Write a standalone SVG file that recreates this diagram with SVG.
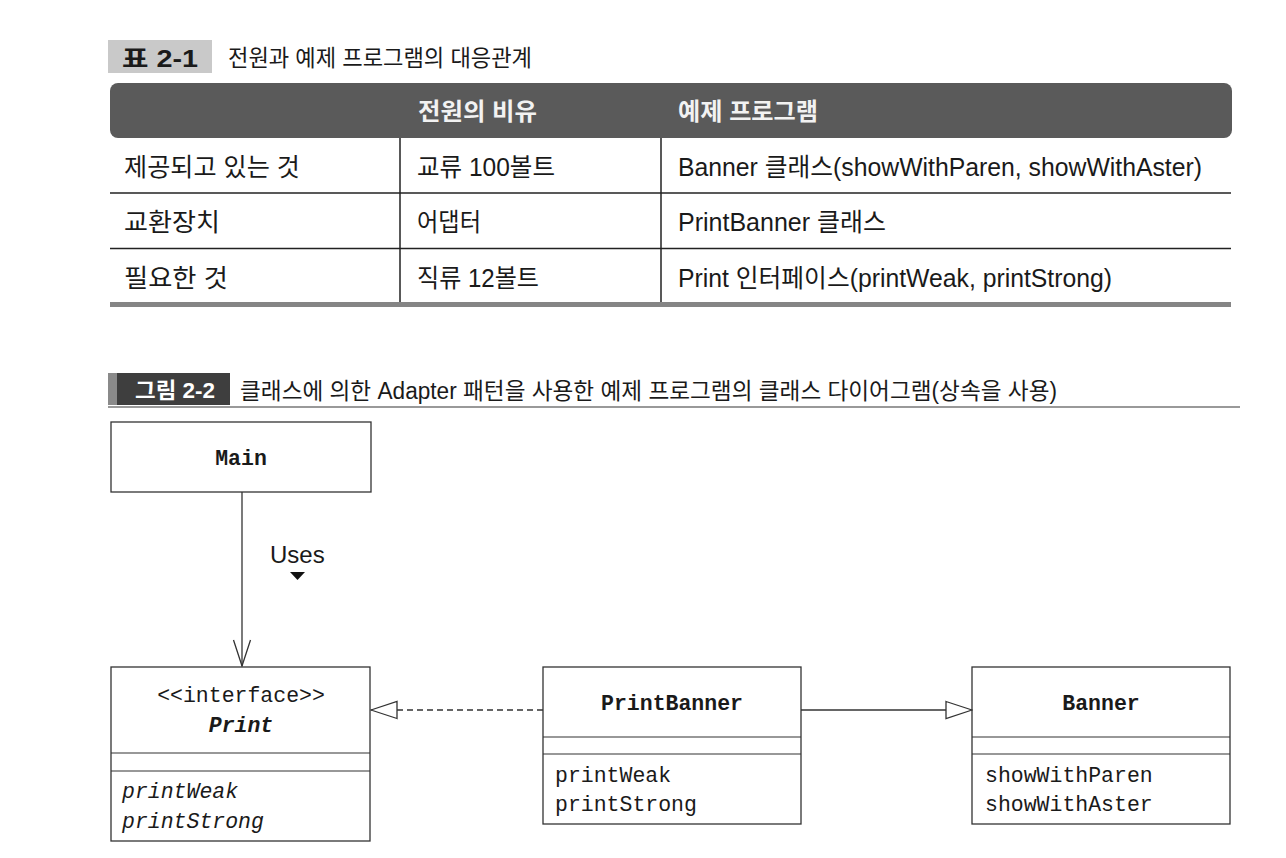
<svg xmlns="http://www.w3.org/2000/svg" width="1286" height="858" viewBox="0 0 1286 858">
<style>
.ko{font-family:"Liberation Sans","Noto Sans CJK KR",sans-serif;fill:#1a1a1a}
.kb{font-weight:bold}
.hd{fill:#f2f2f2;font-weight:bold}
.box{fill:#fff;stroke:#333;stroke-width:1.3}
.div{stroke:#333;stroke-width:1.2}
.mono{font-family:"Liberation Mono","Courier New",monospace;font-size:21.5px;fill:#1a1a1a}
.tl{stroke:#222;stroke-width:1.5}
.conn{stroke:#333;stroke-width:1.3;fill:none}
</style>
<defs>
<marker id="tri" markerUnits="userSpaceOnUse" viewBox="0 0 28 20" refX="27" refY="10" markerWidth="28" markerHeight="20" orient="auto">
<path d="M1,1.5 L27,10 L1,18.5 Z" fill="#fff" stroke="#333" stroke-width="1.3" stroke-dasharray="none"/>
</marker>
<marker id="open" markerUnits="userSpaceOnUse" viewBox="0 0 28 20" refX="27" refY="10" markerWidth="28" markerHeight="20" orient="auto">
<path d="M1,1.5 L27,10 L1,18.5" fill="none" stroke="#333" stroke-width="1.3"/>
</marker>
</defs>
<rect width="1286" height="858" fill="#fff"/>

<g id="table-title">
<rect x="108" y="40" width="104" height="33" fill="#c9c9c9"/>
<text class="ko" x="122" y="67" font-size="24" font-weight="600" textLength="76" lengthAdjust="spacingAndGlyphs">표 2-1</text>
<text class="ko" x="228" y="66" font-size="23" textLength="304" lengthAdjust="spacingAndGlyphs">전원과 예제 프로그램의 대응관계</text>
</g>

<g id="table">
<rect x="110" y="83" width="1122" height="55" rx="8" fill="#5a5a5a"/>
<text class="ko hd" x="418" y="120" font-size="24" textLength="119" lengthAdjust="spacingAndGlyphs">전원의 비유</text>
<text class="ko hd" x="678" y="120" font-size="24" textLength="140" lengthAdjust="spacingAndGlyphs">예제 프로그램</text>
<line class="tl" x1="110" y1="193" x2="1231" y2="193"/>
<line class="tl" x1="110" y1="248.5" x2="1231" y2="248.5"/>
<line class="tl" x1="400" y1="138" x2="400" y2="303"/>
<line class="tl" x1="661" y1="138" x2="661" y2="303"/>
<rect x="110" y="302" width="1121" height="5" fill="#858585"/>
<text class="ko" x="124" y="176" font-size="25" textLength="176" lengthAdjust="spacingAndGlyphs">제공되고 있는 것</text>
<text class="ko" x="417" y="176" font-size="25" textLength="138" lengthAdjust="spacingAndGlyphs">교류 100볼트</text>
<text class="ko" x="678" y="176" font-size="25" textLength="524" lengthAdjust="spacingAndGlyphs">Banner 클래스(showWithParen, showWithAster)</text>
<text class="ko" x="124" y="231" font-size="25" textLength="96" lengthAdjust="spacingAndGlyphs">교환장치</text>
<text class="ko" x="417" y="231" font-size="25" textLength="64" lengthAdjust="spacingAndGlyphs">어댑터</text>
<text class="ko" x="678" y="231" font-size="25" textLength="208" lengthAdjust="spacingAndGlyphs">PrintBanner 클래스</text>
<text class="ko" x="124" y="287" font-size="25" textLength="104" lengthAdjust="spacingAndGlyphs">필요한 것</text>
<text class="ko" x="417" y="287" font-size="25" textLength="122" lengthAdjust="spacingAndGlyphs">직류 12볼트</text>
<text class="ko" x="678" y="287" font-size="25" textLength="434" lengthAdjust="spacingAndGlyphs">Print 인터페이스(printWeak, printStrong)</text>
</g>

<g id="figure-title">
<rect x="108" y="373" width="122" height="32" fill="#3e3e3e"/>
<rect x="108" y="373" width="9" height="32" fill="#8a8a8a"/>
<text class="ko kb" x="135" y="398" font-size="22" style="fill:#fff" textLength="80" lengthAdjust="spacingAndGlyphs">그림 2-2</text>
<text class="ko" x="240" y="399" font-size="23" textLength="817" lengthAdjust="spacingAndGlyphs">클래스에 의한 Adapter 패턴을 사용한 예제 프로그램의 클래스 다이어그램(상속을 사용)</text>
<line x1="108" y1="407" x2="1240" y2="407" stroke="#777" stroke-width="1.5"/>
</g>

<g id="Main">
<rect class="box" x="111" y="422" width="260" height="70"/>
<text class="mono" x="241" y="465" text-anchor="middle" font-weight="bold">Main</text>
</g>

<g id="Print">
<rect class="box" x="111" y="667" width="259" height="174"/>
<line class="div" x1="111" y1="753" x2="370" y2="753"/>
<line class="div" x1="111" y1="771" x2="370" y2="771"/>
<text class="mono" x="241" y="702" text-anchor="middle">&lt;&lt;interface&gt;&gt;</text>
<text class="mono" x="241" y="732" text-anchor="middle" font-weight="bold" font-style="italic">Print</text>
<text class="mono" x="122" y="798" font-style="italic">printWeak</text>
<text class="mono" x="122" y="828" font-style="italic">printStrong</text>
</g>

<g id="PrintBanner">
<rect class="box" x="543" y="667" width="258" height="157"/>
<line class="div" x1="543" y1="737" x2="801" y2="737"/>
<line class="div" x1="543" y1="754" x2="801" y2="754"/>
<text class="mono" x="672" y="710" text-anchor="middle" font-weight="bold">PrintBanner</text>
<text class="mono" x="555" y="782">printWeak</text>
<text class="mono" x="555" y="811">printStrong</text>
</g>

<g id="Banner">
<rect class="box" x="972" y="667" width="258" height="157"/>
<line class="div" x1="972" y1="737" x2="1230" y2="737"/>
<line class="div" x1="972" y1="754" x2="1230" y2="754"/>
<text class="mono" x="1101" y="710" text-anchor="middle" font-weight="bold">Banner</text>
<text class="mono" x="985" y="782">showWithParen</text>
<text class="mono" x="985" y="811">showWithAster</text>
</g>

<g id="connectors">
<line class="conn" x1="242" y1="492" x2="242" y2="666" marker-end="url(#open)"/>
<text class="ko" x="270" y="563" font-size="24">Uses</text>
<path d="M290,572 L305,572 L297.5,580 Z" fill="#111"/>
<line class="conn" x1="543" y1="710" x2="371" y2="710" stroke-dasharray="6,4" marker-end="url(#tri)"/>
<line class="conn" x1="801" y1="710" x2="972" y2="710" marker-end="url(#tri)"/>
</g>
</svg>
